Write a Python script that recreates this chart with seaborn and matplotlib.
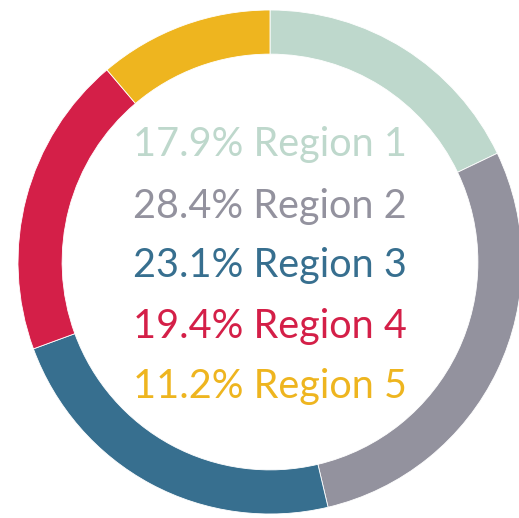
import numpy as np
import seaborn as sns
import matplotlib.pyplot as plt

regions = ['Region 1', 'Region 2', 'Region 3', 'Region 4', 'Region 5']
shares = [17.9, 28.4, 23.1, 19.4, 11.2]
colors = ['#bed8cc', '#93929e', '#376f8f', '#d41f48', '#eeb51f']

sns.set_theme(style='white')
plt.rcParams['font.family'] = ['Lato', 'DejaVu Sans']

fig = plt.figure(figsize=(5.19, 5.18), dpi=100)
ax = fig.add_axes([0, 0, 1, 1])

# donut, starting at 12 o'clock going clockwise
ax.pie(shares, colors=colors, startangle=90, counterclock=False, radius=1,
       wedgeprops=dict(width=0.175, edgecolor='white', linewidth=0.6))

# labels stacked in the middle
baselines = [156, 218, 277, 338, 398]
for lab, v, c, b in zip(regions, shares, colors, baselines):
    ax.text(0, (262 - b) / 252, f'{v}% {lab}', color=c, fontsize=28.5,
            ha='center', va='baseline')

ax.set_xlim(-270 / 252, 249 / 252)
ax.set_ylim(-256 / 252, 262 / 252)
ax.set_aspect('auto')
ax.axis('off')

fig.savefig('out.png', dpi=100)
